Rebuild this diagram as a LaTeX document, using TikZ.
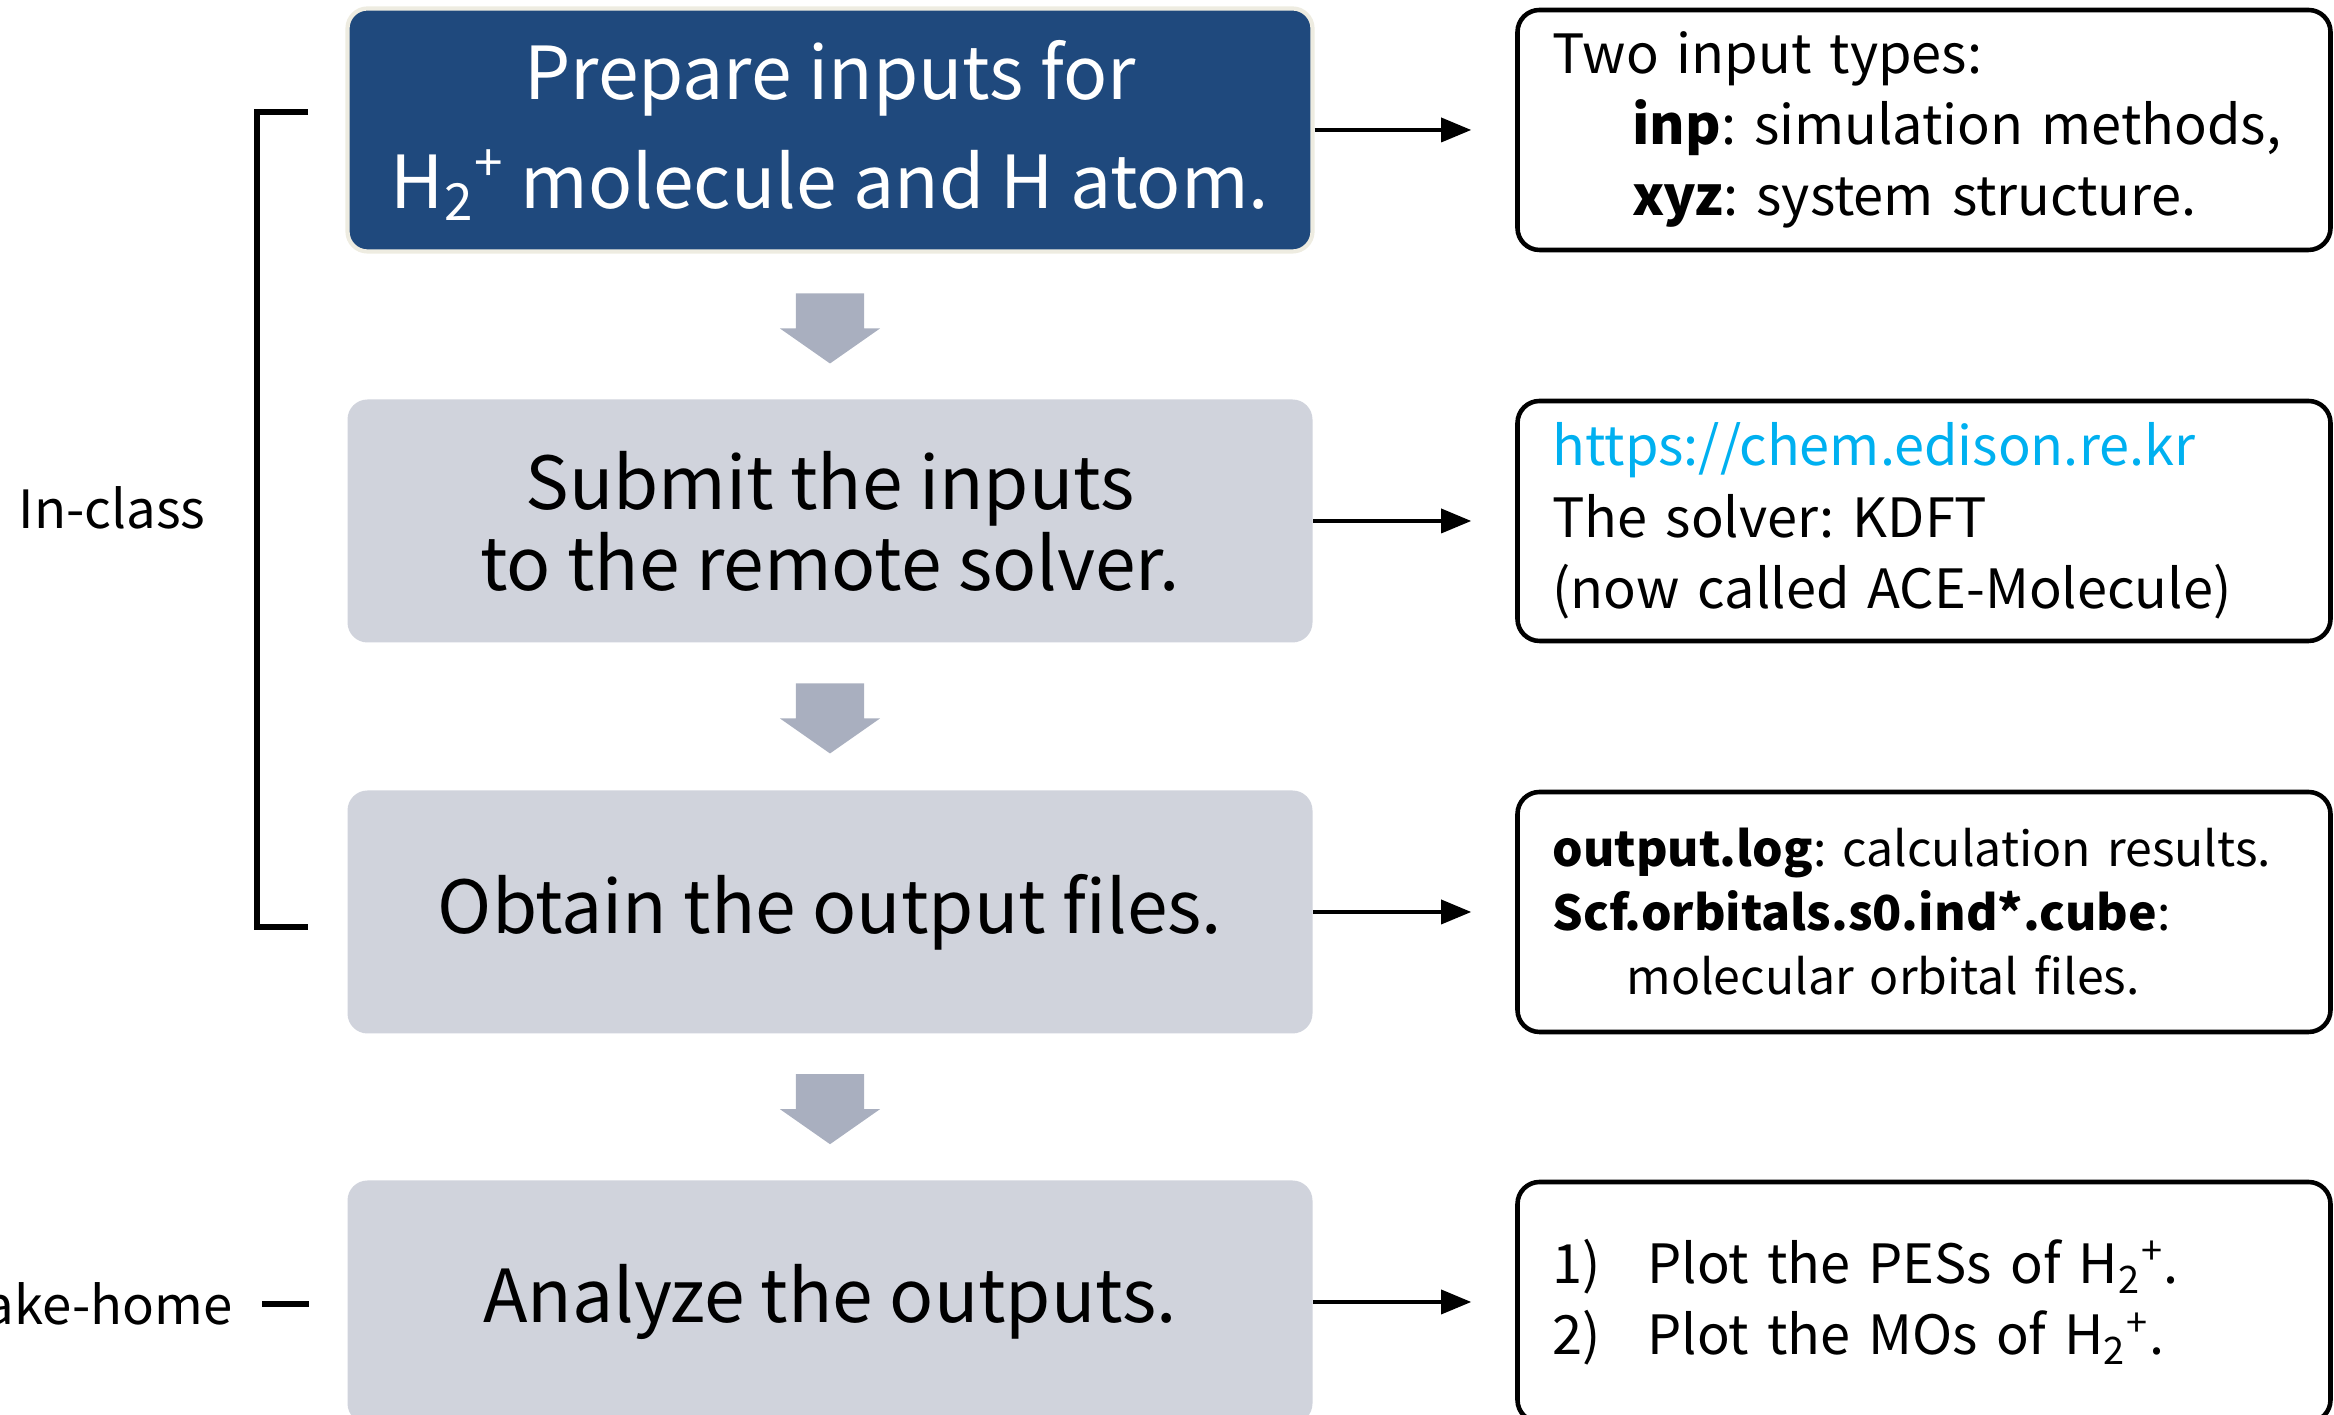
\documentclass[tikz,border=0pt]{standalone}
\usepackage{fontspec}
\setmainfont{Noto Sans CJK KR}
\usetikzlibrary{positioning,arrows.meta,shapes.arrows,calc}
\frenchspacing
\hyphenpenalty=10000

\definecolor{stageblue}{RGB}{31,73,125}
\definecolor{stagegray}{RGB}{208,211,220}
\definecolor{flowgray}{RGB}{169,175,191}
\definecolor{linkcyan}{RGB}{0,176,240}
\definecolor{rimbeige}{RGB}{238,236,225}

\begin{document}
\begin{tikzpicture}[
    stage/.style={fill=stagegray, rounded corners=0.2cm, minimum width=9.65cm,
        minimum height=2.43cm, inner sep=0pt, align=center,
        font=\fontsize{20.8}{23}\selectfont},
    first stage/.style={stage, fill=stageblue, draw=rimbeige, line width=1.2pt,
        text=white, font=\fontsize{20.8}{31}\selectfont},
    note/.style={draw=black, line width=1.3pt, rounded corners=0.22cm,
        minimum width=8.13cm, minimum height=2.4cm, text width=7.43cm,
        inner xsep=0.35cm, inner ysep=0pt, align=left,
        font=\fontsize{15.4}{20.3}\selectfont},
    link/.style={draw=black, line width=1pt, shorten >=0.44cm,
        -{Triangle[length=0.3cm,width=0.24cm]}},
    flow arrow/.style={single arrow, fill=flowgray, inner xsep=0pt,
        inner ysep=0.335cm, rotate=-90, anchor=tail, minimum height=0.70cm,
        single arrow head extend=0.16cm, single arrow tip angle=110},
    side label/.style={font=\fontsize{15}{15}\selectfont, inner sep=0pt},
    bracket/.style={draw=black, line width=1.6pt}
]
    \path[use as bounding box] (0,0) rectangle (23.34,14.15);

    % The four stages of the exercise.
    \node[first stage] (prepare) at (8.30,12.85)
        {Prepare inputs for\\ H\textsubscript{2}\textsuperscript{+} molecule and H atom.};
    \node[stage] (submit) at (8.30,8.94)
        {Submit the inputs\\ to the remote solver.};
    \node[stage] (obtain) at (8.30,5.03) {Obtain the output files.};
    \node[stage] (analyze) at (8.30,1.13) {Analyze the outputs.};

    \node[flow arrow] (step1) at ($(prepare.south)!0.27!(submit.north)$) {};
    \node[flow arrow] (step2) at ($(submit.south)!0.27!(obtain.north)$) {};
    \node[flow arrow] (step3) at ($(obtain.south)!0.27!(analyze.north)$) {};

    % Notes on the right.
    \node[note] (types) at (19.24,12.85)
        {Two input types:\\
         \hspace*{0.8cm}\textbf{inp}: simulation methods,\\
         \hspace*{0.8cm}\textbf{xyz}: system structure.};
    \node[note] (solver) at (19.24,8.94)
        {\textcolor{linkcyan}{https://chem.edison.re.kr}\\
         The solver: KDFT\\
         (now called ACE-Molecule)};
    \node[note, font=\fontsize{13.7}{18.2}\selectfont] (files) at (19.24,5.03)
        {\textbf{output.log}: calculation results.\\
         \textbf{Scf.orbitals.s0.ind*.cube}:\\
         \hspace*{0.74cm}molecular orbital files.};
    \node[note] (plots) at (19.24,1.13)
        {\makebox[0.95cm][l]{1)}Plot the PESs of H\textsubscript{2}\textsuperscript{+}.\\
         \makebox[0.95cm][l]{2)}Plot the MOs of H\textsubscript{2}\textsuperscript{+}.};

    \draw[link] (prepare.east) -- (types.west);
    \draw[link] (submit.east) -- (solver.west);
    \draw[link] (obtain.east) -- (files.west);
    \draw[link] (analyze.east) -- (plots.west);

    % In-class bracket and take-home mark.
    \coordinate (bracket top) at (3.08,13.03);
    \coordinate (bracket bottom) at (3.08,4.88);
    \draw[bracket] (bracket top) -- ++(-0.51,0) |- (bracket bottom);
    \node[side label] (inclass) at (1.12,9.07) {In-class};

    \coordinate (dash start) at (2.62,1.11);
    \coordinate (dash end) at (3.09,1.11);
    \draw[bracket] (dash start) -- (dash end);
    \node[side label, anchor=east] (takehome) at (2.33,1.11) {Take-home};
\end{tikzpicture}
\end{document}
